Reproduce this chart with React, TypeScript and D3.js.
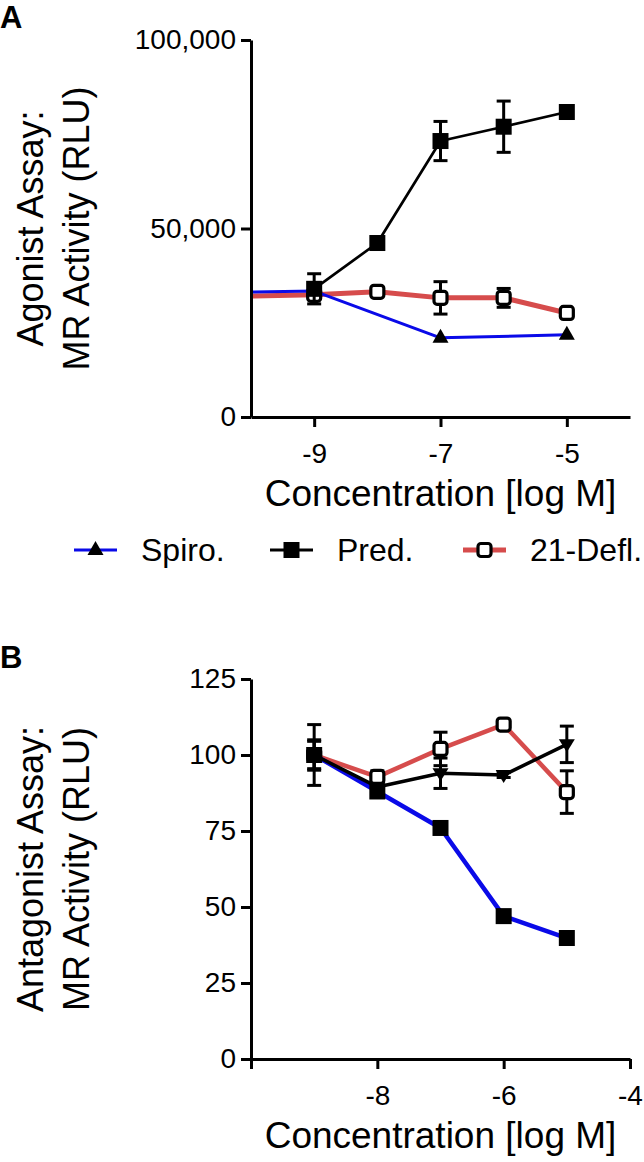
import React, { useEffect, useRef } from 'react';
import * as d3 from 'd3';

const FONT = '"Liberation Sans", Arial, Helvetica, sans-serif';
const BLUE = '#0a0ae8';
const RED = '#d64c4c';

// Panel A - agonist assay, RLU
const agoPredConc = [-9, -8, -7, -6, -5];
const agoPred = [34000, 46150, 73200, 77000, 80900];
const agoPredErr = [4000, 1500, 5200, 6800, 1000];
const agoSpiroConc = [-10.5, -9, -7, -5];
const agoSpiro = [33000, 33400, 21000, 21800];
const agoSpiroErr = [0, 0, 0, 0];
const agoDeflConc = [-10.5, -9, -8, -7, -6, -5];
const agoDefl = [31950, 32400, 33200, 31600, 31600, 27600];
const agoDeflErr = [0, 0, 800, 4300, 2500, 1000];
const agoYTicks = [0, 50000, 100000];
const agoXTicks = [-9, -7, -5];

// Panel B - antagonist assay
const antConc = [-9, -8, -7, -6, -5];
const antSpiro = [100, 88, 76, 47, 39.8];
const antSpiroErr = [4.5, 1.5, 1.5, 1, 1];
const antPred = [100, 89.5, 94, 93.4, 103.5];
const antPredErr = [10, 1, 5, 0.8, 6];
const antDefl = [100, 92.8, 102, 110, 87.8];
const antDeflErr = [5, 2, 5.5, 1, 7];
const antYTicks = [0, 25, 50, 75, 100, 125];
const antXTicks = [-10, -8, -6, -4];

const legendNames = ['Spiro.', 'Pred.', '21-Defl.'];

const drawMarker = (g, type, cx, cy) => {
  if (type === 'square') {
    g.append('rect').attr('x', cx - 8).attr('y', cy - 8).attr('width', 16).attr('height', 16).attr('fill', '#000');
  } else if (type === 'open') {
    g.append('rect')
      .attr('x', cx - 6.5).attr('y', cy - 6.5).attr('width', 13).attr('height', 13)
      .attr('rx', 3)
      .attr('fill', '#fff').attr('stroke', '#000').attr('stroke-width', 3.2);
  } else if (type === 'tri') {
    g.append('path')
      .attr('d', `M${cx},${cy - 9}L${cx + 8},${cy + 5}L${cx - 8},${cy + 5}Z`)
      .attr('fill', '#000');
  } else if (type === 'down') {
    g.append('path')
      .attr('d', `M${cx},${cy + 8}L${cx + 8},${cy - 5}L${cx - 8},${cy - 5}Z`)
      .attr('fill', '#000');
  }
};

const drawPanel = (svg, cfg) => {
  const left = 251;
  const right = 630;
  const x = d3.scaleLinear().domain([-10, -4]).range([left, right]);
  const y = d3.scaleLinear().domain(cfg.yDomain).range([cfg.bottom, cfg.top]);

  const clipId = `clip-${cfg.letter}`;
  svg.append('clipPath').attr('id', clipId)
    .append('rect')
    .attr('x', left).attr('y', cfg.top - 40)
    .attr('width', right - left + 30).attr('height', cfg.bottom - cfg.top + 60);

  const plot = svg.append('g').attr('clip-path', `url(#${clipId})`);

  cfg.series.forEach((s) => {
    const pts = s.x.map((cx, i) => ({ x: cx, v: s.y[i], e: s.err[i] }));
    const line = d3.line().x((d) => x(d.x)).y((d) => y(d.v));
    plot.append('path')
      .attr('d', line(pts))
      .attr('fill', 'none')
      .attr('stroke', s.color)
      .attr('stroke-width', s.width)
      .attr('stroke-linejoin', 'round');

    pts.filter((d) => d.x >= -10).forEach((d) => {
      if (d.e > 0) {
        const cx = x(d.x);
        const y1 = y(d.v + d.e);
        const y2 = y(d.v - d.e);
        const eb = plot.append('g').attr('stroke', '#000').attr('stroke-width', 3);
        eb.append('line').attr('x1', cx).attr('x2', cx).attr('y1', y1).attr('y2', y2);
        eb.append('line').attr('x1', cx - 7).attr('x2', cx + 7).attr('y1', y1).attr('y2', y1);
        eb.append('line').attr('x1', cx - 7).attr('x2', cx + 7).attr('y1', y2).attr('y2', y2);
      }
      drawMarker(plot, s.marker, x(d.x), y(d.v));
    });
  });

  // axes
  const yAxis = svg.append('g')
    .attr('transform', `translate(${left},0)`)
    .call(d3.axisLeft(y).tickValues(cfg.yTicks).tickSize(10).tickSizeOuter(0).tickPadding(5).tickFormat(cfg.yFormat));
  const xAxis = svg.append('g')
    .attr('transform', `translate(0,${cfg.bottom})`)
    .call(d3.axisBottom(x).tickValues(cfg.xTicks).tickSize(10).tickSizeOuter(0).tickPadding(16)
      .tickFormat((d) => (d === -10 ? '' : String(d))));

  [yAxis, xAxis].forEach((ax) => {
    ax.select('.domain').attr('stroke', '#000').attr('stroke-width', 3);
    ax.selectAll('.tick line').attr('stroke', '#000').attr('stroke-width', 3);
    ax.selectAll('.tick text').attr('fill', '#000').style('font-size', '28px').style('font-family', FONT);
  });

  // titles
  const midY = (cfg.top + cfg.bottom) / 2;
  cfg.yTitle.forEach((t, i) => {
    svg.append('text')
      .attr('transform', `translate(${43 + i * 46},${midY}) rotate(-90)`)
      .attr('text-anchor', 'middle')
      .style('font-family', FONT)
      .style('font-size', '36px')
      .text(t);
  });

  svg.append('text')
    .attr('x', (left + right) / 2)
    .attr('y', cfg.bottom + 89)
    .attr('text-anchor', 'middle')
    .style('font-family', FONT)
    .style('font-size', '37px')
    .text('Concentration [log M]');

  svg.append('text')
    .attr('x', 0)
    .attr('y', cfg.letterY)
    .style('font-family', '"Liberation Sans Narrow", "Liberation Sans", Arial, sans-serif')
    .style('font-weight', 'bold')
    .style('font-size', '31px')
    .text(cfg.letter);
};

const App = () => {
  const svgRef = useRef();

  useEffect(() => {
    document.body.style.margin = '0';
    const svg = d3.select(svgRef.current);
    svg.selectAll('*').remove();

    drawPanel(svg, {
      letter: 'A',
      letterY: 28,
      top: 40,
      bottom: 417,
      yDomain: [0, 100000],
      yTicks: agoYTicks,
      yFormat: d3.format(','),
      xTicks: agoXTicks,
      yTitle: ['Agonist Assay:', 'MR Activity (RLU)'],
      series: [
        { x: agoDeflConc, y: agoDefl, err: agoDeflErr, color: RED, width: 5, marker: 'open' },
        { x: agoSpiroConc, y: agoSpiro, err: agoSpiroErr, color: BLUE, width: 3, marker: 'tri' },
        { x: agoPredConc, y: agoPred, err: agoPredErr, color: '#000', width: 2.7, marker: 'square' },
      ],
    });

    drawPanel(svg, {
      letter: 'B',
      letterY: 668,
      top: 679,
      bottom: 1059,
      yDomain: [0, 125],
      yTicks: antYTicks,
      yFormat: d3.format('d'),
      xTicks: antXTicks,
      yTitle: ['Antagonist Assay:', 'MR Activity (RLU)'],
      series: [
        { x: antConc, y: antDefl, err: antDeflErr, color: RED, width: 4.5, marker: 'open' },
        { x: antConc, y: antSpiro, err: antSpiroErr, color: BLUE, width: 4.5, marker: 'square' },
        { x: antConc, y: antPred, err: antPredErr, color: '#000', width: 3.5, marker: 'down' },
      ],
    });

    // legend
    const legendY = 550;
    const legendStyles = [
      { color: BLUE, width: 3, marker: 'tri', x: 74 },
      { color: '#000', width: 3, marker: 'square', x: 270 },
      { color: RED, width: 5, marker: 'open', x: 463 },
    ];
    const legend = svg.append('g');
    legendNames.forEach((name, i) => {
      const st = legendStyles[i];
      legend.append('line')
        .attr('x1', st.x).attr('x2', st.x + 43)
        .attr('y1', legendY).attr('y2', legendY)
        .attr('stroke', st.color).attr('stroke-width', st.width);
      drawMarker(legend, st.marker, st.x + 21.5, legendY);
      legend.append('text')
        .attr('x', st.x + 67)
        .attr('y', legendY + 11)
        .style('font-family', FONT)
        .style('font-size', '32px')
        .text(name);
    });
  }, []);

  return <svg ref={svgRef} width={644} height={1162} style={{ display: 'block', background: '#fff' }} />;
};

export default App;
